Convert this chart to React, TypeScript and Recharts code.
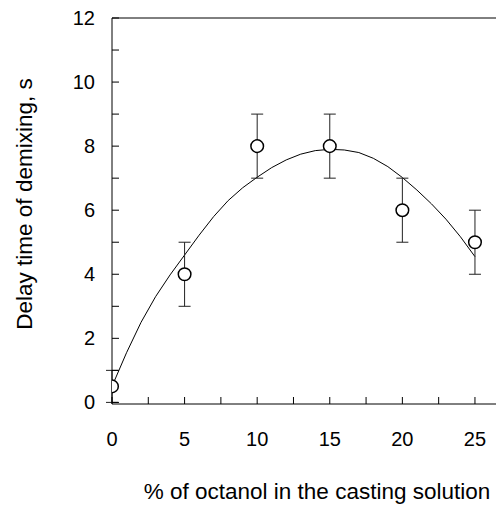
import React from 'react';
import {
  ComposedChart,
  Line,
  Scatter,
  XAxis,
  YAxis,
  ErrorBar,
  ReferenceLine,
  Label,
} from 'recharts';

// Measured delay times (s) with their error bars
const octanolPct = [0, 5, 10, 15, 20, 25];
const delayTime = [0.5, 4, 8, 8, 6, 5];
const delayError = [0.5, 1, 1, 1, 1, 1];

// Fitted trend curve
const fitPct = [0, 1, 2, 3, 4, 5, 6, 7, 8, 9, 10, 11, 12, 13, 14, 15, 16, 17, 18, 19, 20, 21, 22, 23, 24, 25];
const fitDelay = [
  0.5, 1.55, 2.5, 3.3, 3.98, 4.6, 5.22, 5.8, 6.3, 6.7, 7.03, 7.33, 7.57, 7.75, 7.86, 7.9,
  7.88, 7.8, 7.62, 7.36, 7.02, 6.63, 6.2, 5.72, 5.17, 4.55,
];

// Axis ticks: every tick gets a mark, only some get a label
const xTicks = [0, 2.5, 5, 7.5, 10, 12.5, 15, 17.5, 20, 22.5, 25];
const xLabels = [0, 5, 10, 15, 20, 25];
const yTicks = [0, 1, 2, 3, 4, 5, 6, 7, 8, 9, 10, 11, 12];
const yLabels = [0, 2, 4, 6, 8, 10, 12];

const xTitle = '% of octanol in the casting solution';
const yTitle = 'Delay time of demixing, s';

const FONT = '"Liberation Sans", Arial, sans-serif';

const points = octanolPct.map((x, i) => ({ x, y: delayTime[i], err: delayError[i] }));
const fitRows = fitPct.map((x, i) => ({ x, fit: fitDelay[i] }));

const XTick = (props: any) => {
  const { x, y, payload } = props;
  const v = payload.value;
  return (
    <g>
      <line x1={x} y1={y} x2={x} y2={y - 7} stroke="#000" strokeWidth={1} />
      {xLabels.includes(v) && (
        <text x={x} y={y + 28} dy="0.71em" textAnchor="middle" fontSize={20} fontFamily={FONT} fill="#000">
          {v}
        </text>
      )}
    </g>
  );
};

const YTick = (props: any) => {
  const { x, y, payload } = props;
  const v = payload.value;
  return (
    <g>
      <line x1={x} y1={y} x2={x + 7} y2={y} stroke="#000" strokeWidth={1} />
      {yLabels.includes(v) && (
        <text x={x - 17} y={y} dy="0.355em" textAnchor="end" fontSize={20} fontFamily={FONT} fill="#000">
          {v}
        </text>
      )}
    </g>
  );
};

const Circle = (props: any) => {
  const { cx, cy } = props;
  return <circle cx={cx} cy={cy} r={6.3} fill="#fff" stroke="#000" strokeWidth={1.5} />;
};

export default function App() {
  return (
    <div style={{ width: 496, height: 498 }}>
      <ComposedChart
        width={496}
        height={498}
        margin={{ top: 10, right: 0, bottom: 0, left: 0 }}
      >
        <XAxis
          type="number"
          dataKey="x"
          domain={[0, 27]}
          ticks={xTicks}
          interval={0}
          tick={<XTick />}
          tickLine={false}
          tickSize={0}
          tickMargin={0}
          axisLine={{ stroke: '#000', strokeWidth: 1 }}
          height={102}
          allowDataOverflow
        >
          <Label
            content={() => (
              <text x={309} y={491} textAnchor="middle" fontSize={22.5} fontFamily={FONT} fill="#000">
                {xTitle}
              </text>
            )}
          />
        </XAxis>
        <YAxis
          type="number"
          domain={[-0.05, 12]}
          ticks={yTicks}
          interval={0}
          tick={<YTick />}
          tickLine={false}
          tickSize={0}
          tickMargin={0}
          axisLine={{ stroke: '#000', strokeWidth: 1 }}
          width={104}
          allowDataOverflow
        >
          <Label
            content={() => (
              <text
                x={16}
                y={196}
                transform="rotate(-90 16 196)"
                textAnchor="middle"
                dominantBaseline="central"
                fontSize={22.5}
                fontFamily={FONT}
                fill="#000"
              >
                {yTitle}
              </text>
            )}
          />
        </YAxis>
        <ReferenceLine y={12} stroke="#000" strokeWidth={1} />
        <Line
          data={fitRows}
          dataKey="fit"
          type="linear"
          stroke="#000"
          strokeWidth={1}
          dot={false}
          activeDot={false}
          isAnimationActive={false}
        />
        <Scatter data={points} dataKey="y" shape={<Circle />} isAnimationActive={false}>
          <ErrorBar dataKey="err" direction="y" width={6} stroke="#222" strokeWidth={1} />
        </Scatter>
      </ComposedChart>
    </div>
  );
}
